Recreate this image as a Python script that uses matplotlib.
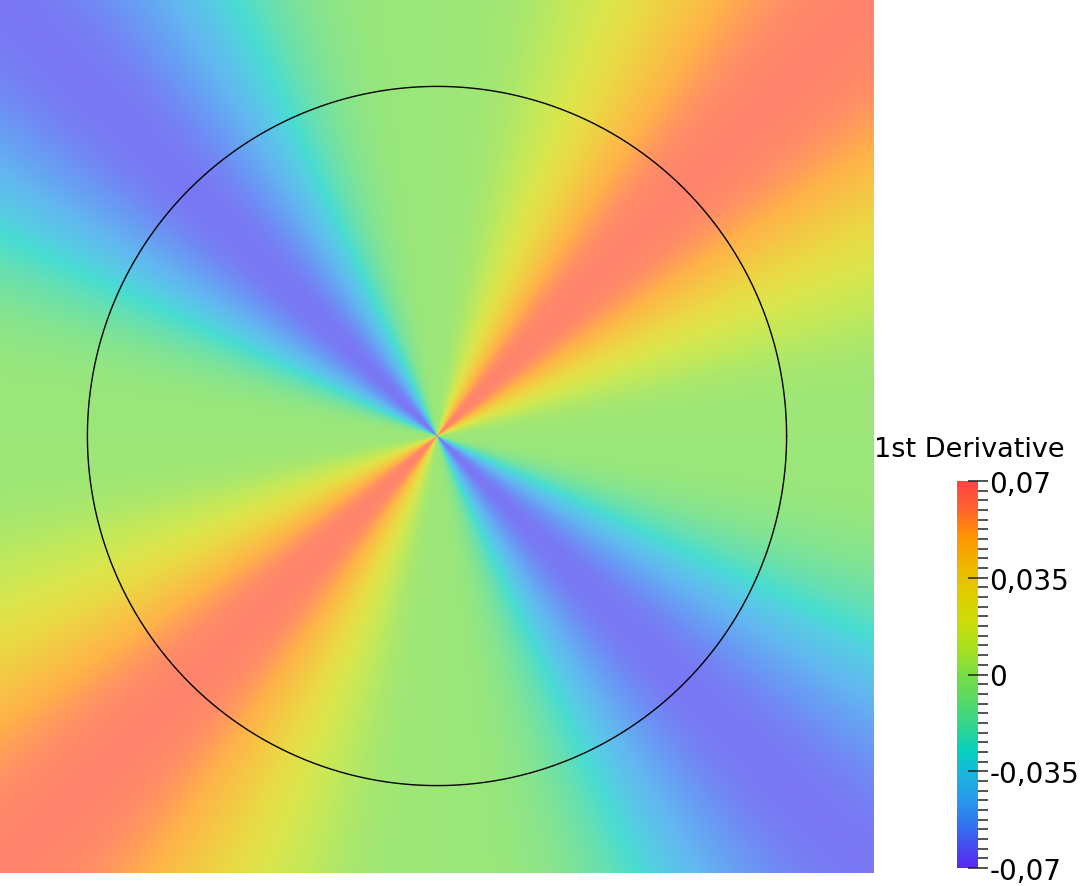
import numpy as np
import matplotlib
matplotlib.use("Agg")
from matplotlib import pyplot as plt
from matplotlib.colors import LinearSegmentedColormap, Normalize

# Диапазон шкалы
vmin = -0.07
vmax = 0.07
major_ticks = [0.07, 0.035, 0.0, -0.035, -0.07]
major_labels = ["0,07", "0,035", "0", "-0,035", "-0,07"]
bar_title = "1st Derivative"

# Цвета шкалы (значение, RGB)
cmap_values = [-0.07, -0.063, -0.055, -0.045, -0.035, -0.028, -0.02, -0.01,
               0.0, 0.01, 0.02, 0.03, 0.04, 0.05, 0.06, 0.07]
cmap_colors = [(90, 40, 245), (70, 75, 240), (50, 115, 240), (40, 155, 235),
               (25, 185, 218), (5, 208, 192), (45, 212, 150), (85, 218, 105),
               (120, 222, 70), (170, 225, 30), (205, 220, 10), (225, 205, 0),
               (240, 180, 0), (255, 150, 5), (255, 100, 45), (255, 68, 68)]

# Поле: значение зависит только от угла
amplitude = 0.064
power = 3
half_width = 1.25
circle_radius = 1.0
n_grid = 1000
white_mix = 0.27

norm = Normalize(vmin, vmax)
cmap = LinearSegmentedColormap.from_list(
    "pv", [(norm(v), tuple(c / 255 for c in col)) for v, col in zip(cmap_values, cmap_colors)])

x = np.linspace(-half_width, half_width, n_grid)
X, Y = np.meshgrid(x, x)
theta = np.arctan2(Y, X)
field = amplitude * np.sin(2 * theta) ** power

rgb = cmap(norm(field))[..., :3]
rgb = rgb * (1 - white_mix) + white_mix

W, H = 1086, 887
fig = plt.figure(figsize=(W / 100, H / 100), dpi=100)

ax = fig.add_axes([0, (H - 874) / H, 874 / W, 874 / H])
ax.imshow(rgb, origin="lower", extent=[-half_width, half_width, -half_width, half_width],
          interpolation="bilinear")
t = np.linspace(0, 2 * np.pi, 720)
ax.plot(circle_radius * np.cos(t), circle_radius * np.sin(t), color="black", lw=1.0)
ax.set_xlim(-half_width, half_width)
ax.set_ylim(-half_width, half_width)
ax.axis("off")

# Цветовая шкала
cax = fig.add_axes([957 / W, (H - 869) / H, 21 / W, 387 / H])
grad = np.linspace(vmin, vmax, 256).reshape(-1, 1)
cax.imshow(grad, origin="lower", extent=[0, 1, vmin, vmax], aspect="auto",
           cmap=cmap, norm=norm, interpolation="nearest")
cax.set_xlim(0, 1)
cax.set_ylim(vmin, vmax)
for s in cax.spines.values():
    s.set_visible(False)
cax.set_xticks([])
cax.yaxis.tick_right()
cax.set_yticks(major_ticks)
cax.set_yticklabels(major_labels)
cax.set_yticks(np.linspace(vmin, vmax, 41), minor=True)
cax.tick_params(axis="y", which="major", direction="inout", length=14.4, width=1.1,
                color="#222222", labelsize=20, pad=1)
cax.tick_params(axis="y", which="minor", direction="out", length=7.2, width=1.1,
                color="#222222")

fig.text(969 / W, 1 - 457 / H, bar_title, ha="center", va="baseline", fontsize=19.5)

fig.savefig("out.png", dpi=100)
